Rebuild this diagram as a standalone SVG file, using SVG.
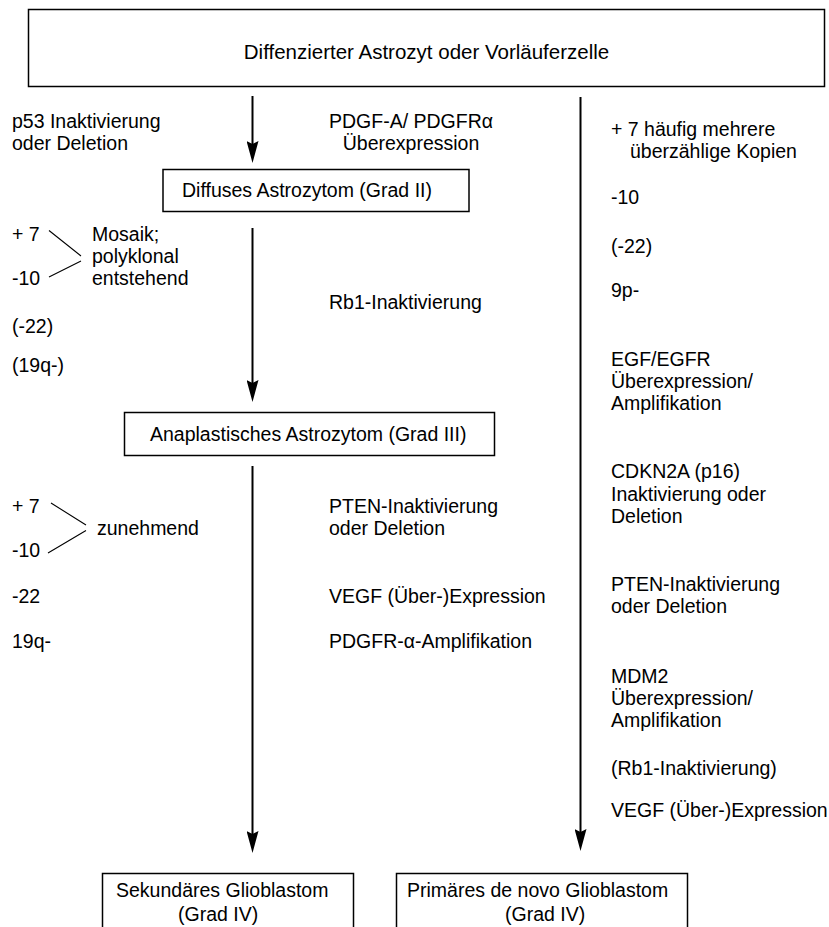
<svg xmlns="http://www.w3.org/2000/svg" width="829" height="927" viewBox="0 0 829 927">
<style>
text{font-family:"Liberation Sans",Arial,Helvetica,sans-serif;font-size:19.5px;fill:#000}
.box{fill:#fff;stroke:#000;stroke-width:1.5}
.arrow{stroke:#000;stroke-width:2;fill:none;marker-end:url(#ah)}
.br{stroke:#000;stroke-width:1.1;fill:none}
.m{text-anchor:middle}
.big{font-size:20.5px}
</style>
<defs>
<marker id="ah" markerUnits="userSpaceOnUse" viewBox="0 0 22 12" refX="11" refY="6" markerWidth="22" markerHeight="12" orient="auto">
<path d="M0,0 L22,6 L0,12 L3,6 z" fill="#000"/>
</marker>
</defs>
<rect width="829" height="927" fill="#fff"/>
<g id="connectors">
<line class="arrow" x1="252.5" y1="96" x2="252.5" y2="152"/>
<line class="arrow" x1="252.5" y1="228" x2="252.5" y2="391"/>
<line class="arrow" x1="252.5" y1="466" x2="252.5" y2="842"/>
<line class="arrow" x1="580.5" y1="97" x2="580.5" y2="840"/>
</g>
<g id="n-start">
<rect class="box" x="28.5" y="9.5" width="796" height="77"/>
<text class="m big" x="426.5" y="59">Diffenzierter Astrozyt oder Vorläuferzelle</text>
</g>
<g id="n-diffus">
<rect class="box" x="163" y="169.5" width="306" height="42"/>
<text x="182" y="197">Diffuses Astrozytom (Grad II)</text>
</g>
<g id="n-anaplast">
<rect class="box" x="124.5" y="412.5" width="370" height="43"/>
<text x="150" y="441">Anaplastisches Astrozytom (Grad III)</text>
</g>
<g id="n-sek">
<rect class="box" x="102.5" y="873.5" width="251" height="70"/>
<text x="116" y="897">Sekundäres Glioblastom</text>
<text x="178" y="921">(Grad IV)</text>
</g>
<g id="n-prim">
<rect class="box" x="396.5" y="873.5" width="291" height="70"/>
<text x="407" y="897">Primäres de novo Glioblastom</text>
<text x="505" y="921">(Grad IV)</text>
</g>
<g id="left-labels">
<text x="12" y="128">p53 Inaktivierung</text>
<text x="12" y="150">oder Deletion</text>
<text x="12" y="241">+ 7</text>
<text x="12" y="285">-10</text>
<text x="92" y="241">Mosaik;</text>
<text x="92" y="263">polyklonal</text>
<text x="92" y="285">entstehend</text>
<path class="br" d="M49,230.5 L81,256 M81,261 L49,277"/>
<text x="12" y="333">(-22)</text>
<text x="12" y="372">(19q-)</text>
<text x="12" y="513">+ 7</text>
<text x="12" y="557">-10</text>
<text x="97" y="535">zunehmend</text>
<path class="br" d="M51,503 L86,525 M86,530.5 L48,553"/>
<text x="12" y="603">-22</text>
<text x="12" y="648">19q-</text>
</g>
<g id="mid-labels">
<text class="m" x="411" y="128">PDGF-A/ PDGFRα</text>
<text class="m" x="411" y="150">Überexpression</text>
<text x="329" y="309">Rb1-Inaktivierung</text>
<text x="329" y="513">PTEN-Inaktivierung</text>
<text x="329" y="535">oder Deletion</text>
<text x="329" y="603">VEGF (Über-)Expression</text>
<text x="329" y="648">PDGFR-α-Amplifikation</text>
</g>
<g id="right-labels">
<text x="611" y="136">+ 7 häufig mehrere</text>
<text x="630" y="158">überzählige Kopien</text>
<text x="611" y="204">-10</text>
<text x="611" y="253">(-22)</text>
<text x="611" y="297">9p-</text>
<text x="611" y="366">EGF/EGFR</text>
<text x="611" y="388">Überexpression/</text>
<text x="611" y="410">Amplifikation</text>
<text x="611" y="478">CDKN2A (p16)</text>
<text x="611" y="501">Inaktivierung oder</text>
<text x="611" y="523">Deletion</text>
<text x="611" y="591">PTEN-Inaktivierung</text>
<text x="611" y="613">oder Deletion</text>
<text x="611" y="683">MDM2</text>
<text x="611" y="705">Überexpression/</text>
<text x="611" y="727">Amplifikation</text>
<text x="611" y="775">(Rb1-Inaktivierung)</text>
<text x="611" y="817">VEGF (Über-)Expression</text>
</g>
</svg>
